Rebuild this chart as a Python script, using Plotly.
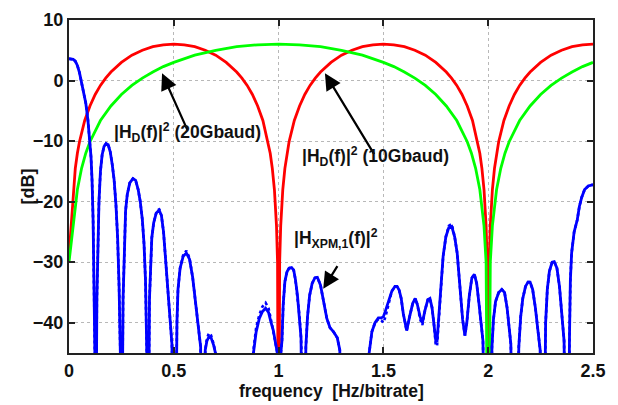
import plotly.graph_objects as go

# |H_D(f)|^2 curve labelled (10Gbaud), in dB
red_f = [0.0, 0.01, 0.02, 0.03, 0.04, 0.05, 0.075, 0.1, 0.125, 0.15, 0.175, 0.2, 0.25, 0.3, 0.35, 0.4, 0.45, 0.5,
         0.55, 0.6, 0.65, 0.7, 0.75, 0.8, 0.825, 0.85, 0.875, 0.9, 0.925, 0.95, 0.96, 0.97, 0.98, 0.99, 0.995,
         1.0,
         1.005, 1.01, 1.02, 1.03, 1.04, 1.05, 1.075, 1.1, 1.125, 1.15, 1.175, 1.2, 1.25, 1.3, 1.35, 1.4, 1.45, 1.5,
         1.55, 1.6, 1.65, 1.7, 1.75, 1.8, 1.825, 1.85, 1.875, 1.9, 1.925, 1.95, 1.96, 1.97, 1.98, 1.99, 1.995,
         2.0,
         2.005, 2.01, 2.02, 2.03, 2.04, 2.05, 2.075, 2.1, 2.125, 2.15, 2.175, 2.2, 2.25, 2.3, 2.35, 2.4, 2.45, 2.5]
red_db = [-29.0, -24.0, -18.0, -14.5, -12.0, -10.1, -6.6, -4.2, -2.3, -0.8, 0.4, 1.4, 3.0, 4.2, 5.0, 5.6, 5.9, 6.0,
          5.9, 5.6, 5.0, 4.2, 3.0, 1.4, 0.4, -0.8, -2.3, -4.2, -6.6, -10.1, -12.0, -14.5, -18.0, -24.0, -30.0,
          -80.0,
          -30.0, -24.0, -18.0, -14.5, -12.0, -10.1, -6.6, -4.2, -2.3, -0.8, 0.4, 1.4, 3.0, 4.2, 5.0, 5.6, 5.9, 6.0,
          5.9, 5.6, 5.0, 4.2, 3.0, 1.4, 0.4, -0.8, -2.3, -4.2, -6.6, -10.1, -12.0, -14.5, -18.0, -24.0, -30.0,
          -80.0,
          -30.0, -24.0, -18.0, -14.5, -12.0, -10.1, -6.6, -4.2, -2.3, -0.8, 0.4, 1.4, 3.0, 4.2, 5.0, 5.6, 5.9, 6.0]

# |H_D(f)|^2 curve labelled (20Gbaud), in dB
green_f = [0.0, 0.02, 0.04, 0.06, 0.08, 0.1, 0.15, 0.2, 0.25, 0.3, 0.35, 0.4, 0.45, 0.5, 0.6, 0.7, 0.8, 0.9,
           1.0, 1.1, 1.2, 1.3, 1.4, 1.5, 1.55, 1.6, 1.65, 1.7, 1.75, 1.8, 1.85, 1.9, 1.92, 1.94, 1.96, 1.98, 1.99,
           2.0,
           2.01, 2.02, 2.04, 2.06, 2.08, 2.1, 2.15, 2.2, 2.25, 2.3, 2.35, 2.4, 2.45, 2.5]
green_db = [-30.0, -24.0, -18.0, -14.5, -12.0, -10.1, -6.6, -4.2, -2.3, -0.8, 0.4, 1.4, 2.3, 3.0, 4.2, 5.0, 5.6, 5.9,
            6.0, 5.9, 5.6, 5.0, 4.2, 3.0, 2.3, 1.4, 0.4, -0.8, -2.3, -4.2, -6.6, -10.1, -12.0, -14.5, -18.0, -24.0, -30.0,
            -80.0,
            -30.0, -24.0, -18.0, -14.5, -12.0, -10.1, -6.6, -4.2, -2.3, -0.8, 0.4, 1.4, 2.3, 3.0]

# |H_XPM,1(f)|^2 : solid and dotted traces, in dB (values below the axis floor run off the plot)
xpm_f = [0.000, 0.010, 0.020, 0.030, 0.040, 0.050, 0.060, 0.070, 0.080, 0.090, 0.100, 0.105, 0.110, 0.115, 0.120, 0.124,
         0.129, 0.133, 0.138, 0.143, 0.150, 0.158, 0.167, 0.177, 0.187, 0.197, 0.206, 0.215, 0.224, 0.232, 0.239, 0.245,
         0.253, 0.258, 0.264, 0.270, 0.278, 0.290, 0.305, 0.318, 0.330, 0.340, 0.350, 0.358, 0.365, 0.371,
         0.379, 0.384, 0.389, 0.395, 0.404, 0.416, 0.430, 0.441, 0.451, 0.461, 0.471, 0.481, 0.491, 0.499,
         0.510, 0.515, 0.520, 0.530, 0.545, 0.560, 0.575, 0.590, 0.600, 0.610, 0.620, 0.628, 0.634,
         0.643, 0.650, 0.658, 0.668, 0.678, 0.690, 0.700, 0.706,
         0.780,
         0.873, 0.880, 0.893, 0.908, 0.922, 0.938, 0.952, 0.963, 0.975, 0.985, 0.993, 1.000,
         1.008, 1.016, 1.022, 1.030, 1.040, 1.050, 1.062, 1.072, 1.080, 1.090, 1.100, 1.107, 1.112,
         1.125, 1.130, 1.138, 1.148, 1.160, 1.173, 1.185, 1.200, 1.215, 1.230, 1.245, 1.262, 1.280, 1.292, 1.300,
         1.360,
         1.425, 1.432, 1.445, 1.460, 1.476, 1.490, 1.500, 1.510, 1.525, 1.540, 1.555, 1.565, 1.575, 1.585, 1.595,
         1.605, 1.611, 1.625, 1.640, 1.652, 1.662, 1.675, 1.686, 1.698, 1.712, 1.722, 1.732, 1.742, 1.750, 1.756,
         1.765, 1.775, 1.785, 1.798, 1.812, 1.826, 1.840, 1.852, 1.865, 1.878, 1.889, 1.898, 1.910, 1.922, 1.934,
         1.945, 1.955, 1.965, 1.975, 1.983,
         2.000,
         2.012, 2.018, 2.025, 2.035, 2.050, 2.065, 2.078, 2.090, 2.100, 2.108, 2.115,
         2.140, 2.146, 2.155, 2.165, 2.178, 2.190, 2.200, 2.212, 2.225, 2.238, 2.248, 2.253,
         2.268, 2.274, 2.282, 2.292, 2.305, 2.315, 2.328, 2.340, 2.352, 2.362, 2.368,
         2.383, 2.388, 2.392, 2.398, 2.410, 2.425, 2.435, 2.446, 2.460, 2.478, 2.500]
xpm_solid_db = [3.6, 3.6, 3.5, 3.2, 2.5, 1.3, -0.3, -1.9, -3.7, -6.4, -10.0, -12.6, -16.5, -23.0, -36.0, -60.0,
                -60.0, -36.0, -26.0, -20.0, -15.0, -12.3, -10.9, -10.4, -10.6, -11.8, -13.8, -16.3, -20.5, -26.0, -34.0, -60.0,
                -60.0, -36.0, -26.0, -21.5, -18.8, -16.9, -16.2, -16.5, -18.0, -20.0, -23.0, -27.0, -33.0, -60.0,
                -60.0, -36.0, -29.5, -26.0, -23.5, -21.9, -21.4, -22.3, -25.0, -29.5, -35.5, -40.0, -43.5, -60.0,
                -60.0, -40.0, -34.5, -31.0, -29.0, -28.5, -29.5, -32.5, -35.5, -38.8, -41.5, -44.0, -60.0,
                -60.0, -44.5, -43.0, -42.3, -42.5, -43.7, -45.2, -60.0,
                -60.0,
                -60.0, -45.0, -41.5, -39.3, -38.2, -37.6, -38.3, -39.8, -41.3, -43.3, -44.8, -60.0,
                -46.0, -43.0, -37.0, -33.2, -31.6, -31.0, -30.9, -31.3, -32.8, -35.5, -39.0, -42.5, -60.0,
                -60.0, -44.0, -39.0, -35.5, -33.5, -32.6, -32.5, -33.8, -36.5, -39.3, -40.8, -41.5, -42.5, -44.5, -60.0,
                -60.0,
                -60.0, -45.0, -41.5, -40.0, -39.2, -39.2, -39.0, -38.0, -36.5, -34.8, -34.0, -34.0, -34.6, -36.0, -38.5,
                -40.5, -41.3, -39.0, -36.8, -36.0, -37.0, -39.0, -40.0, -38.0, -36.2, -36.0, -37.5, -40.5, -43.0, -43.0,
                -39.0, -34.0, -29.0, -25.8, -24.3, -24.1, -25.8, -28.5, -33.8, -39.5, -42.1, -40.0, -35.5, -32.6, -32.0,
                -33.5, -36.5, -40.0, -43.0, -60.0,
                -60.0,
                -60.0, -44.0, -39.5, -36.5, -35.0, -34.5, -35.0, -37.5, -40.5, -43.5, -60.0,
                -60.0, -44.0, -39.0, -36.0, -34.0, -33.3, -33.3, -34.5, -37.5, -41.5, -44.5, -60.0,
                -60.0, -40.0, -34.5, -31.5, -30.0, -29.9, -31.0, -34.0, -38.5, -43.0, -60.0,
                -60.0, -42.0, -33.0, -28.5, -25.0, -23.0, -20.8, -19.3, -18.0, -17.4, -17.2]
xpm_dotted_db = [3.6, 3.6, 3.5, 3.2, 2.5, 1.3, -0.3, -1.9, -3.7, -6.4, -10.0, -12.6, -16.5, -23.0, -36.0, -60.0,
                 -60.0, -36.0, -26.0, -20.0, -15.0, -12.3, -10.9, -10.4, -10.6, -11.8, -13.8, -16.3, -20.5, -26.0, -34.0, -60.0,
                 -60.0, -36.0, -26.0, -21.5, -18.8, -16.9, -16.2, -16.5, -18.0, -20.0, -23.0, -27.0, -33.0, -60.0,
                 -60.0, -36.0, -29.5, -26.0, -23.5, -21.9, -21.2, -22.3, -25.0, -29.5, -35.5, -40.0, -43.5, -60.0,
                 -60.0, -40.0, -34.5, -31.0, -28.8, -28.1, -29.3, -32.5, -35.5, -38.8, -41.5, -44.0, -60.0,
                 -60.0, -44.5, -42.6, -41.7, -42.1, -43.5, -45.2, -60.0,
                 -60.0,
                 -60.0, -44.5, -40.8, -38.7, -37.4, -36.7, -37.6, -39.4, -41.3, -43.3, -44.8, -60.0,
                 -46.0, -43.0, -37.0, -33.2, -31.6, -31.0, -30.9, -31.3, -32.8, -35.5, -39.0, -42.5, -60.0,
                 -60.0, -44.0, -39.0, -35.5, -33.5, -32.6, -32.5, -33.8, -36.5, -39.3, -40.8, -41.5, -42.5, -44.5, -60.0,
                 -60.0,
                 -60.0, -45.0, -41.5, -40.0, -39.4, -39.6, -40.0, -39.0, -36.8, -34.8, -34.0, -34.0, -34.6, -36.0, -38.5,
                 -40.5, -41.3, -39.0, -36.8, -36.0, -37.0, -39.4, -40.4, -38.0, -36.2, -36.0, -37.5, -40.5, -43.8, -43.8,
                 -39.0, -34.0, -29.0, -25.8, -24.0, -23.7, -25.8, -28.5, -33.8, -39.5, -42.1, -40.0, -35.5, -32.6, -32.0,
                 -33.5, -36.5, -40.0, -43.0, -60.0,
                 -60.0,
                 -60.0, -44.0, -39.5, -36.5, -35.0, -34.5, -35.0, -37.5, -40.5, -43.5, -60.0,
                 -60.0, -44.0, -39.0, -36.0, -34.0, -33.3, -33.3, -34.5, -37.5, -41.5, -44.5, -60.0,
                 -60.0, -40.0, -34.5, -31.5, -30.0, -29.9, -31.0, -34.0, -38.5, -43.0, -60.0,
                 -60.0, -42.0, -33.0, -28.5, -25.0, -23.0, -20.8, -19.3, -18.0, -17.4, -17.2]

assert len(red_f) == len(red_db)
assert len(green_f) == len(green_db)
assert len(xpm_f) == len(xpm_solid_db) == len(xpm_dotted_db)

x_ticks = [0, 0.5, 1, 1.5, 2, 2.5]
y_ticks = [-40, -30, -20, -10, 0, 10]

FONT = "Liberation Sans, Arial, Helvetica, sans-serif"

fig = go.Figure()
fig.add_trace(go.Scatter(x=red_f, y=red_db, mode="lines",
                         line=dict(color="#ff0000", width=2.8), showlegend=False))
fig.add_trace(go.Scatter(x=green_f, y=green_db, mode="lines",
                         line=dict(color="#00ff00", width=2.8), showlegend=False))
fig.add_trace(go.Scatter(x=xpm_f, y=xpm_dotted_db, mode="lines",
                         line=dict(color="#0000ff", width=2.6, dash="dot"), showlegend=False))
fig.add_trace(go.Scatter(x=xpm_f, y=xpm_solid_db, mode="lines",
                         line=dict(color="#0000ff", width=2.8), showlegend=False))

axis_common = dict(
    showline=True, linecolor="#222222", linewidth=2, mirror="ticks",
    ticks="inside", ticklen=6, tickwidth=1.5, tickcolor="#222222",
    showgrid=True, gridcolor="#b8b8b8", gridwidth=1, griddash="dot",
    zeroline=False,
    tickfont=dict(family=FONT, size=18, color="#111111", weight="bold"),
)
fig.update_xaxes(range=[0, 2.5], tickvals=x_ticks, ticktext=[f"{v:g}" for v in x_ticks], **axis_common)
fig.update_yaxes(range=[-45, 10], tickvals=y_ticks, **axis_common)

label_font = dict(family=FONT, size=17.5, color="#111111", weight="bold")

# arrows pointing from the labels to their curves
arrows = [
    dict(x=0.444, y=1.2, ax=0.568, ay=-8.4),
    dict(x=1.221, y=1.2, ax=1.46, ay=-12.4),
    dict(x=1.213, y=-34.4, ax=1.285, ay=-30.4),
]
for a in arrows:
    fig.add_annotation(x=a["x"], y=a["y"], ax=a["ax"], ay=a["ay"], xref="x", yref="y",
                       axref="x", ayref="y", text="", showarrow=True,
                       arrowhead=2, arrowsize=1.5, arrowwidth=2.2, arrowcolor="#000000")

fig.add_annotation(x=0.205, y=-8.6, xref="x", yref="y", xanchor="left", yanchor="middle",
                   text="|H<sub>D</sub>(f)|<sup>2</sup> (20Gbaud)", showarrow=False, font=label_font)
fig.add_annotation(x=1.102, y=-12.5, xref="x", yref="y", xanchor="left", yanchor="middle",
                   text="|H<sub>D</sub>(f)|<sup>2</sup> (10Gbaud)", showarrow=False, font=label_font)
fig.add_annotation(x=1.062, y=-26.1, xref="x", yref="y", xanchor="left", yanchor="middle",
                   text="|H<sub>XPM,1</sub>(f)|<sup>2</sup>", showarrow=False, font=label_font)

# axis titles
fig.add_annotation(x=-0.08, y=0.5, xref="paper", yref="paper", xanchor="center", yanchor="middle",
                   text="[dB]", textangle=-90, showarrow=False,
                   font=dict(family=FONT, size=18, color="#111111", weight="bold"))
fig.add_annotation(x=0.5, y=-0.113, xref="paper", yref="paper", xanchor="center", yanchor="middle",
                   text="frequency  [Hz/bitrate]", showarrow=False,
                   font=dict(family=FONT, size=17.5, color="#111111", weight="bold"))

fig.update_layout(
    width=618, height=405,
    margin=dict(l=69, r=25, t=10, b=52),
    paper_bgcolor="white", plot_bgcolor="white",
    showlegend=False,
)

fig.write_html("out.html")
